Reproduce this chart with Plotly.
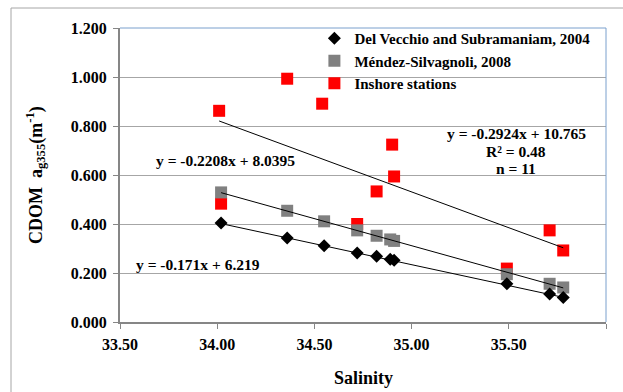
import plotly.graph_objects as go

# ---- data ----
dv_x = [34.02, 34.36, 34.55, 34.72, 34.82, 34.89, 34.91, 35.49, 35.71, 35.78]
dv_y = [0.404, 0.343, 0.311, 0.282, 0.268, 0.256, 0.252, 0.156, 0.114, 0.100]
ms_x = [34.02, 34.36, 34.55, 34.72, 34.82, 34.89, 34.91, 35.49, 35.71, 35.78]
ms_y = [0.529, 0.454, 0.411, 0.374, 0.352, 0.337, 0.331, 0.195, 0.156, 0.141]
in_x = [34.01, 34.02, 34.36, 34.54, 34.72, 34.82, 34.90, 34.91, 35.49, 35.71, 35.78]
in_y = [0.862, 0.483, 0.993, 0.891, 0.400, 0.533, 0.724, 0.594, 0.218, 0.374, 0.292]

x_ticks = [33.5, 34.0, 34.5, 35.0, 35.5, 36.0]
x_tick_labels = ["33.50", "34.00", "34.50", "35.00", "35.50", "36.00"]
y_ticks = [0.0, 0.2, 0.4, 0.6, 0.8, 1.0, 1.2]
y_tick_labels = ["0.000", "0.200", "0.400", "0.600", "0.800", "1.000", "1.200"]

dv_fit = (-0.171, 6.219)
ms_fit = (-0.2208, 8.0395)
in_fit = (-0.2924, 10.765)

names = ["Del Vecchio and Subramaniam, 2004", "Méndez-Silvagnoli, 2008", "Inshore stations"]

FONT = "Liberation Serif"

fig = go.Figure()

fig.add_trace(go.Scatter(x=in_x, y=in_y, mode="markers", name=names[2], legendgroup="c",
                         marker=dict(symbol="square", size=12, color="#ff0000"), legendrank=3))
fig.add_trace(go.Scatter(x=ms_x, y=ms_y, mode="markers", name=names[1], legendgroup="b",
                         marker=dict(symbol="square", size=12, color="#808080"), legendrank=2))
fig.add_trace(go.Scatter(x=dv_x, y=dv_y, mode="markers", name=names[0], legendgroup="a",
                         marker=dict(symbol="diamond", size=10, color="#000000"), legendrank=1))

for xs, (m, b) in [(dv_x, dv_fit), (ms_x, ms_fit), (in_x, in_fit)]:
    x0, x1 = min(xs), max(xs)
    fig.add_trace(go.Scatter(x=[x0, x1], y=[m * x0 + b, m * x1 + b], mode="lines",
                             line=dict(color="black", width=1), showlegend=False,
                             hoverinfo="skip"))

ann_font = dict(family=FONT, size=15.5, color="black", weight="bold")
annotations = [
    dict(x=225, y=161, text="y = -0.2208x + 8.0395"),
    dict(x=198, y=264, text="y = -0.171x + 6.219"),
    dict(x=516, y=133, text="y = -0.2924x + 10.765"),
    dict(x=516, y=151, text="R² = 0.48"),
    dict(x=516, y=168, text="n = 11"),
]
L, R, T, B = 120, 606, 28, 322
def px2paper(px, py):
    return (px - L) / (R - L), (B - py) / (B - T)

anns = []
for a in annotations:
    px, py = px2paper(a["x"], a["y"])
    anns.append(dict(x=px, y=py, xref="paper", yref="paper", text=a["text"],
                     showarrow=False, font=ann_font, xanchor="center", yanchor="middle"))

title_font = dict(family=FONT, size=18, color="black", weight="bold")
tx, ty = px2paper(35, 175)
anns.append(dict(x=tx, y=ty, xref="paper", yref="paper",
                 text="CDOM  a<sub>g355</sub>(m<sup>-1</sup>)", textangle=-90,
                 showarrow=False, font=title_font, xanchor="center", yanchor="middle"))
sx, sy = px2paper(363, 378)
anns.append(dict(x=sx, y=sy, xref="paper", yref="paper", text="Salinity",
                 showarrow=False, font=title_font, xanchor="center", yanchor="middle"))

ox, oy = px2paper(11, 8)
shapes = [
    dict(type="line", xref="paper", yref="paper", x0=ox, y0=oy, x1=1.2, y1=oy,
         line=dict(color="#a6a6a6", width=1)),
    dict(type="line", xref="paper", yref="paper", x0=ox, y0=oy, x1=ox, y1=-0.5,
         line=dict(color="#a6a6a6", width=1)),
    dict(type="line", xref="paper", yref="paper", x0=0, y0=1, x1=1, y1=1,
         line=dict(color="#7ba0cd", width=1)),
    dict(type="line", xref="paper", yref="paper", x0=1, y0=0, x1=1, y1=1,
         line=dict(color="#7ba0cd", width=1)),
]

tick_font = dict(family="Times New Roman", size=16, color="black", weight="bold")

fig.update_layout(
    width=623, height=392,
    margin=dict(l=L, r=623 - R, t=T, b=392 - B),
    paper_bgcolor="white", plot_bgcolor="white",
    font=dict(family=FONT, size=13, color="black"),
    showlegend=True,
    legend=dict(x=0.40, y=1.02, xanchor="left", yanchor="top",
                bgcolor="rgba(0,0,0,0)", font=dict(family=FONT, size=15, color="black", weight="bold"),
                tracegroupgap=0, itemwidth=30, traceorder="grouped"),
    annotations=anns,
    shapes=shapes,
    xaxis=dict(range=[33.5, 36.0], tickmode="array", tickvals=x_ticks,
               ticktext=x_tick_labels,
               showgrid=False, zeroline=False, showline=True, linecolor="#868686", linewidth=2,
               ticks="outside", ticklen=5, tickcolor="#868686", ticklabelstandoff=2,
               automargin=False, tickfont=tick_font),
    yaxis=dict(range=[0, 1.2], tickmode="array", tickvals=y_ticks,
               ticktext=y_tick_labels,
               showgrid=True, gridcolor="#a6a6a6", gridwidth=1, zeroline=False,
               showline=True, linecolor="#868686", linewidth=2,
               ticks="outside", ticklen=5, tickcolor="#868686", ticklabelstandoff=3,
               automargin=False, tickfont=tick_font),
)

fig.write_html("out.html")
